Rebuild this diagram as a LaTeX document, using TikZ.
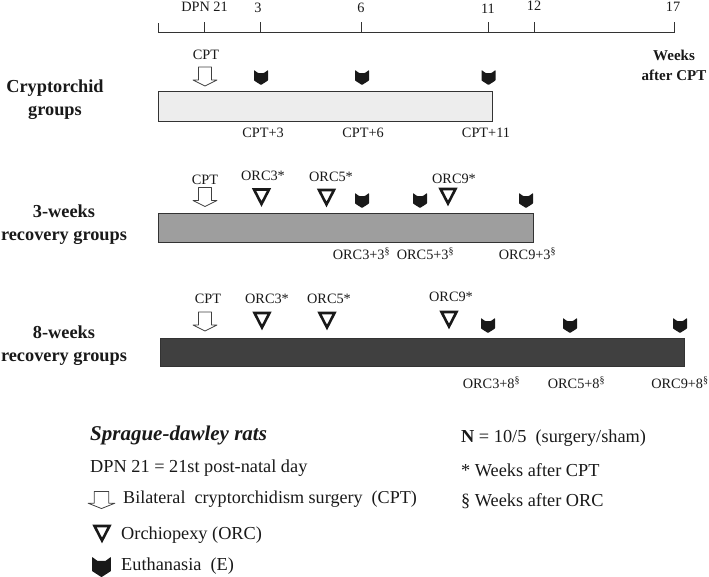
\documentclass[tikz,border=0pt]{standalone}
\usepackage{fontspec}
\setmainfont{Liberation Serif}

\newcommand{\sectmark}{\textsuperscript{§}}

\tikzset{
  lbl/.style={inner sep=0pt,text=black!90,font=\fontsize{14.3}{16}\selectfont},
  leglbl/.style={lbl,anchor=west,font=\fontsize{18.3}{20}\selectfont},
  grp/.style={lbl,align=center,font=\fontsize{18.3}{23}\selectfont\bfseries},
  bar/.style={draw=black!80,line width=1pt},
  tick/.style={line width=0.9pt,black!80},
  pics/cptmark/.style={code={\draw[line width=0.8pt,black!75,fill=white,line join=round]
      (-6.5,-9.5) -- (6.5,-9.5) -- (6.5,3.5) -- (12,3.5) -- (0,9.5) -- (-12,3.5) -- (-6.5,3.5) -- cycle;}},
  pics/orcmark/.style={code={\draw[line width=2.6pt,black!90,fill=white,line join=miter]
      (-7.5,-8) -- (7.5,-8) -- (0,6.5) -- cycle;}},
  pics/emark/.style={code={\fill[black!90,rounded corners=0.6pt]
      (-7,-7.5) -- (-3,-4.5) -- (3,-4.5) -- (7,-7.5) -- (7,3) -- (0,7.5) -- (-7,3) -- cycle;}},
}

\begin{document}
\begin{tikzpicture}[x=1pt,y=-1pt]
\useasboundingbox (0,0) rectangle (709,576);

% time axis
\coordinate (ax0) at (158,32.5);
\coordinate (ax1) at (674,32.5);
\draw[tick] (ax0) -- (ax1);
\foreach \xp/\yt in {158/23,204/22,260/22,361/22,488.5/22,534/22,674/22}
  \draw[tick] (\xp,32.5) -- (\xp,\yt);
\foreach \xp/\yp/\txt in {204.5/7/DPN 21,258/8/3,361/8/6,488/9/11,534/6/12,673/7/17}
  \node[lbl] at (\xp,\yp) {\txt};
\node[lbl,font=\fontsize{15}{20}\selectfont\bfseries,align=center] (wk) at (674,65) {Weeks\\after CPT};

% cryptorchid groups
\node[grp] (g1) at (55,100) {Cryptorchid\\groups};
\draw[bar,fill=black!7] (158,91) rectangle (492,121);
\node[lbl] (c1) at (206,55) {CPT};
\pic at (205,76.5) {cptmark};
\foreach \xp in {261,362,488.5} \pic at (\xp,77.5) {emark};
\foreach \xp/\txt in {263/CPT+3,363/CPT+6,486/CPT+11}
  \node[lbl] at (\xp,133) {\txt};

% 3-weeks recovery
\node[grp] (g2) at (64,224.5) {3-weeks\\recovery groups};
\draw[bar,fill=black!38] (158,213) rectangle (533.5,242);
\node[lbl] (c2) at (205,180) {CPT};
\pic at (205,197) {cptmark};
\foreach \xp/\yp/\txt in {263/176/ORC3*,331/177/ORC5*,454/179/ORC9*}
  \node[lbl] at (\xp,\yp) {\txt};
\foreach \xp/\yp in {261.5/197.5,326.5/198,448/197} \pic at (\xp,\yp) {orcmark};
\foreach \xp in {362,420,526} \pic at (\xp,200.5) {emark};
\foreach \xp/\txt in {361.5/ORC3+3,425.5/ORC5+3,527.5/ORC9+3}
  \node[lbl] at (\xp,254) {\txt\sectmark};

% 8-weeks recovery
\node[grp] (g3) at (64,346) {8-weeks\\recovery groups};
\draw[bar,fill=black!75] (160,338) rectangle (684,366);
\node[lbl] (c3) at (208,299) {CPT};
\pic at (205,321.5) {cptmark};
\foreach \xp/\yp/\txt in {267/299/ORC3*,329/299/ORC5*,451/297/ORC9*}
  \node[lbl] at (\xp,\yp) {\txt};
\foreach \xp/\yp in {262/321,327/321,449/320} \pic at (\xp,\yp) {orcmark};
\foreach \xp in {488,570,680} \pic at (\xp,325.5) {emark};
\foreach \xp/\txt in {491.5/ORC3+8,576.5/ORC5+8,680/ORC9+8}
  \node[lbl] at (\xp,383) {\txt\sectmark};

% legend
\node[leglbl,font=\fontsize{21}{23}\selectfont\bfseries\itshape] (rats) at (90,435) {Sprague-dawley rats};
\node[leglbl] (dpn) at (90,468) {DPN 21 = 21st post-natal day};
\pic[xscale=1.12,yscale=0.9] at (101.5,500) {cptmark};
\node[leglbl,font=\fontsize{18.1}{20}\selectfont] (cpt) at (123,499) {Bilateral\ \ cryptorchidism surgery\ \ (CPT)};
\pic at (102,534) {orcmark};
\node[leglbl] (orc) at (121,535) {Orchiopexy (ORC)};
\pic[scale=1.35] at (101.5,567) {emark};
\node[leglbl] (euth) at (121,566) {Euthanasia\ \ (E)};
\node[leglbl] (nn) at (461,438) {\textbf{N} = 10/5\ \ (surgery/sham)};
\node[leglbl] (star) at (461,470) {* Weeks after CPT};
\node[leglbl] (sect) at (461,501) {§ Weeks after ORC};
\end{tikzpicture}
\end{document}
